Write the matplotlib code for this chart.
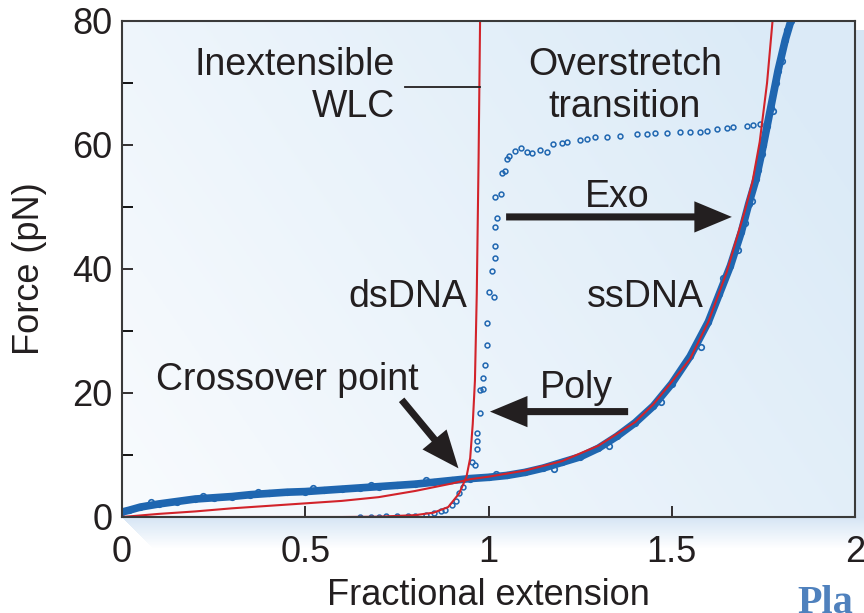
import numpy as np
import matplotlib
matplotlib.use("Agg")
import matplotlib.pyplot as plt

plt.rcParams['font.family'] = ['Liberation Sans', 'DejaVu Sans']

# ssDNA force-extension data (dense band)
ss_x = [0.0, 0.02, 0.05, 0.1, 0.15, 0.2, 0.25, 0.3, 0.35, 0.4, 0.45, 0.5, 0.55, 0.6,
        0.65, 0.7, 0.75, 0.8, 0.85, 0.9, 0.95, 1.0, 1.05, 1.1, 1.15, 1.2, 1.25, 1.3,
        1.35, 1.4, 1.45, 1.5, 1.55, 1.6, 1.63, 1.66, 1.69, 1.71, 1.73, 1.75, 1.77,
        1.79, 1.81, 1.825]
ss_y = [0.8, 1.1, 1.6, 2.1, 2.5, 2.9, 3.1, 3.3, 3.6, 3.8, 4.0, 4.1, 4.3, 4.5,
        4.7, 4.9, 5.1, 5.3, 5.6, 5.9, 6.2, 6.4, 6.7, 7.2, 7.9, 8.8, 9.7, 11.1,
        13.0, 15.2, 17.9, 21.5, 25.9, 31.5, 36.0, 40.5, 46.0, 50.5, 54.5, 60.0, 66.0,
        72.0, 77.0, 80.0]
# scattered points at the edges of the ssDNA band
ss_edge_x = [0.08, 0.22, 0.37, 0.52, 0.68, 0.83, 1.02, 1.18, 1.33, 1.47, 1.58, 1.64,
             1.68, 1.70, 1.72, 1.735, 1.745, 1.76, 1.775, 1.785, 1.80, 1.815]
ss_edge_y = [2.4, 3.4, 4.0, 4.6, 5.2, 5.9, 6.9, 7.8, 11.4, 18.5, 27.5, 38.5,
             43.0, 47.5, 51.0, 56.0, 58.5, 63.0, 65.5, 70.0, 73.5, 78.5]

# dsDNA data (stretch + overstretch plateau)
ds_x = [0.65, 0.68, 0.70, 0.72, 0.75, 0.78, 0.80, 0.83, 0.85, 0.87, 0.88, 0.90, 0.91,
        0.92, 0.93, 0.94, 0.955, 0.963, 0.969, 0.969, 0.969, 0.977, 0.977, 0.985,
        0.985, 0.99, 0.996, 0.996, 1.001, 1.015, 1.009, 1.018, 1.018, 1.018, 1.023,
        1.018, 1.034, 1.037, 1.045, 1.050, 1.056, 1.072, 1.089, 1.105, 1.119, 1.141,
        1.160, 1.176, 1.20, 1.214, 1.25, 1.269, 1.29, 1.323, 1.359, 1.405, 1.432,
        1.455, 1.487, 1.523, 1.55, 1.577, 1.596, 1.623, 1.65, 1.667, 1.705, 1.722,
        1.741]
ds_y = [0.0, 0.0, 0.0, 0.1, 0.1, 0.2, 0.2, 0.3, 0.6, 0.9, 1.1, 2.0, 2.6,
        3.8, 4.8, 6.3, 8.9, 8.4, 10.9, 12.3, 13.5, 16.7, 20.5, 20.6,
        22.5, 24.5, 27.7, 31.3, 36.3, 35.5, 39.7, 41.8, 43.7, 46.8, 48.2,
        51.6, 52.1, 55.5, 55.8, 57.7, 58.2, 59.0, 59.5, 58.9, 58.7, 59.2,
        58.9, 60.2, 60.3, 60.5, 60.8, 61.0, 61.3, 61.3, 61.5, 61.8, 61.8,
        61.9, 61.9, 62.1, 62.1, 62.1, 62.3, 62.6, 62.7, 62.9, 63.1, 63.2,
        63.4]

# model fits
wlc_x = [0.0, 0.3, 0.6, 0.7, 0.8, 0.85, 0.89, 0.92, 0.94, 0.95, 0.957, 0.963, 0.968, 0.973, 0.977]
wlc_y = [0.0, 0.0, 0.0, 0.05, 0.3, 0.7, 1.6, 3.8, 6.5, 9.5, 15.0, 22.0, 36.0, 58.0, 80.0]
ssfit_x = [0.0, 0.1, 0.2, 0.3, 0.4, 0.5, 0.6, 0.7, 0.8, 0.9, 0.95, 1.0, 1.1, 1.2, 1.3,
           1.4, 1.45, 1.5, 1.55, 1.6, 1.65, 1.7, 1.72, 1.74, 1.76, 1.775]
ssfit_y = [0.0, 0.5, 0.9, 1.4, 1.8, 2.2, 2.6, 3.2, 4.2, 5.4, 6.1, 6.5, 7.5, 9.0, 11.5,
           15.3, 18.2, 21.8, 25.5, 31.5, 39.5, 49.5, 54.0, 60.5, 70.0, 80.0]

blue = '#1f66b0'
red = '#d2232a'
ink = '#231f20'

fig = plt.figure(figsize=(8.64, 6.13), dpi=100)

# shadow of the plot box
bg = fig.add_axes([0, 0, 1, 1], zorder=-10)
bg.axis('off')
H, W = 613, 864
img = np.ones((H, W, 3))
shade = np.array([0.84, 0.90, 0.96])
yy, xx = np.mgrid[0:H, 0:W]
a = np.zeros((H, W))
right = (xx >= 855) & (yy >= 30) & (yy <= 540)
a[right] = 1.0
bottom = (yy >= 517) & (yy <= 548) & (xx >= 122 + (yy - 517)) & (xx <= 864)
a[bottom] = np.clip(1 - (yy[bottom] - 517) / 31.0, 0, 1)
img = img * (1 - a[..., None]) + shade * a[..., None]
bg.imshow(img, extent=(0, 1, 0, 1), aspect='auto', transform=bg.transAxes)

ax = fig.add_axes([122 / 864, 1 - 517 / 613, (855 - 122) / 864, (517 - 21) / 613])

# background gradient
gx, gy = np.meshgrid(np.linspace(0, 1, 200), np.linspace(0, 1, 200))
t = np.clip(0.75 * gx + 0.35 * gy, 0, 1)[..., None]
c0 = np.array([0.975, 0.985, 0.995])
c1 = np.array([0.86, 0.92, 0.97])
grad = c0 * (1 - t) + c1 * t
ax.imshow(grad, extent=(0, 2, 0, 80), origin='lower', aspect='auto', zorder=0)

ax.plot(ss_x, ss_y, color=blue, lw=5.5, zorder=2, solid_capstyle='round')
ax.plot(ss_x, ss_y, 'o', ms=4, mfc='none', mec=blue, mew=1.2, zorder=2)
ax.plot(ss_edge_x, ss_edge_y, 'o', ms=4, mfc='none', mec=blue, mew=1.2, zorder=2)
ax.plot(ds_x, ds_y, 'o', ms=3.5, mfc='none', mec=blue, mew=1.1, zorder=2)
ax.plot(wlc_x, wlc_y, color=red, lw=1.5, zorder=3)
ax.plot(ssfit_x, ssfit_y, color=red, lw=1.5, zorder=3)

fs = 27
ax.text(0.745, 71.3, 'Inextensible', ha='right', va='baseline', fontsize=fs, color=ink)
ax.text(0.745, 64.5, 'WLC', ha='right', va='baseline', fontsize=fs, color=ink)
ax.plot([0.773, 0.977], [69.4, 69.4], color=ink, lw=1.3, zorder=3)
ax.text(1.372, 71.3, 'Overstretch', ha='center', va='baseline', fontsize=fs, color=ink)
ax.text(1.372, 64.5, 'transition', ha='center', va='baseline', fontsize=fs, color=ink)
ax.text(1.35, 50.0, 'Exo', ha='center', va='baseline', fontsize=fs, color=ink)
ax.text(0.78, 33.9, 'dsDNA', ha='center', va='baseline', fontsize=fs, color=ink)
ax.text(1.427, 33.9, 'ssDNA', ha='center', va='baseline', fontsize=fs, color=ink)
ax.text(0.45, 20.5, 'Crossover point', ha='center', va='baseline', fontsize=fs, color=ink)
ax.text(1.239, 19.2, 'Poly', ha='center', va='baseline', fontsize=fs, color=ink)

style = 'simple,head_length=0.9,head_width=0.75,tail_width=0.17'
for tail, tip in [((1.048, 48.4), (1.664, 48.4)),
                  ((1.381, 17.0), (1.004, 17.0)),
                  ((0.763, 18.9), (0.918, 7.85))]:
    ax.annotate('', xy=tip, xytext=tail,
                arrowprops=dict(arrowstyle=style, mutation_scale=30, fc=ink, ec='none',
                                shrinkA=0, shrinkB=0), zorder=4)

ax.set_xlim(0, 2)
ax.set_ylim(0, 80)
ax.set_xticks([0, 0.5, 1, 1.5, 2])
ax.set_xticklabels(['0', '0.5', '1', '1.5', '2'])
ax.set_yticks([0, 20, 40, 60, 80])
ax.set_yticks([10, 30, 50, 70], minor=True)
ax.tick_params(direction='in', length=8, width=1.3, labelsize=26, colors=ink)
ax.tick_params(axis='x', pad=13)
ax.tick_params(axis='y', pad=7)
ax.tick_params(which='minor', direction='in', length=8, width=1.3)
for s in ax.spines.values():
    s.set_color('#3a3a3a')
    s.set_linewidth(1.5)
    s.set_zorder(5)

ax.set_xlabel('Fractional extension', fontsize=26, color=ink, labelpad=6)
ax.set_ylabel('Force (pN)', fontsize=26, color=ink, labelpad=18)

fig.text(797 / 864, 0.0, 'Pla', fontsize=29, fontweight='bold', family='Liberation Serif',
         color='#4f81bd', va='baseline', ha='left')

fig.savefig('out.png', dpi=100)
